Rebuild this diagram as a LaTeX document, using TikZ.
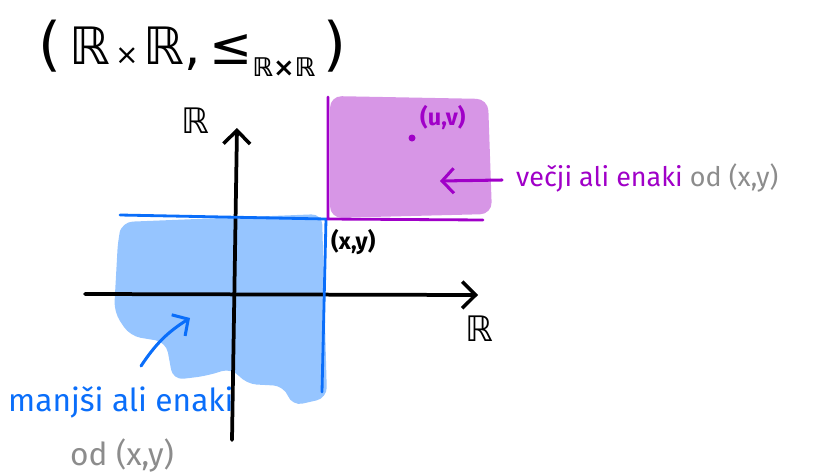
\documentclass[tikz,border=0pt]{standalone}
\usepackage{amsmath}
\usepackage{amssymb}
\usepackage{fontspec}
\setsansfont{Fira Sans}
\newfontfamily\symfont{DejaVu Sans}
\usetikzlibrary{arrows.meta}
\definecolor{pblue}{RGB}{10,110,250}
\definecolor{pbluefill}{RGB}{150,197,255}
\definecolor{ppurp}{RGB}{160,0,200}
\definecolor{ppurpfill}{RGB}{215,150,230}
\definecolor{pgray}{RGB}{140,140,140}
\tikzset{
  hax/.style={line width=3.2pt,black,line cap=round,-{Straight Barb[length=4mm,width=8mm,line width=3pt]}},
  hline/.style={line width=2.4pt,line cap=round,#1},
  harrow/.style={line width=2.6pt,line cap=round,#1,-{Straight Barb[length=3.5mm,width=7.5mm,line width=2.6pt]}},
  hlab/.style={font=\sffamily\fontsize{23}{26}\selectfont,inner sep=0pt},
  hsmall/.style={font=\sffamily\bfseries\fontsize{20}{23}\selectfont,inner sep=0pt},
  hmath/.style={font=\symfont\fontsize{30}{34}\selectfont,inner sep=0pt},
}
\begin{document}
\begin{tikzpicture}[x=0.03cm,y=-0.03cm]
\useasboundingbox (0,0) rectangle (815,472);
%% the two cones: below-left of (x,y) in blue, above-right in purple
\fill[pbluefill,rounded corners=9] (122,222) -- (322,214) -- (327,398) -- (292,406)
  -- (284,386) -- (246,384) -- (232,368) -- (206,376) -- (173,380) -- (166,342)
  -- (130,336) -- (114,312) -- (118,240) -- cycle;
\fill[ppurpfill,rounded corners=10] (330,96) -- (488,99) -- (492,214) -- (330,218) -- cycle;
% axes
\coordinate (xL) at (85,294);
\coordinate (xR) at (478,295);
\coordinate (yB) at (232,440);
\coordinate (yT) at (237,128);
\draw[hax] (xL) -- (xR);
\draw[hax] (yB) -- (yT);
\node[hmath] (Rx) at (479,329) {ℝ};
\node[hmath] (Ry) at (195,121) {ℝ};
% boundaries through (x,y)
\coordinate (xy) at (326,219);
\draw[hline=pblue] (120,215) -- (xy) -- (322,392);
\draw[hline=ppurp] (328,97) -- (328,219) -- (483,220);
\node[hsmall,anchor=north west] (xyl) at (331,229) {(x,y)};
% the point (u,v)
\fill[ppurp] (412,138) coordinate (uv) circle (3.5);
\node[hsmall,ppurp,anchor=west] (uvl) at (420,118) {(u,v)};
% title
\node[font=\symfont\fontsize{44}{50}\selectfont,inner sep=0pt,anchor=west] (title) at (38,48)
  {{\fontsize{50}{54}\selectfont(}\,ℝ{\fontsize{24}{26}\selectfont\,×\,}ℝ,\,≤\raisebox{-10pt}{\bfseries\fontsize{22}{24}\selectfont ℝ×ℝ}\,{\fontsize{50}{54}\selectfont)}};
% labels with their arrows
\node[hlab,anchor=west] (vecji) at (516,178) {\textcolor{ppurp}{večji ali enaki} \textcolor{pgray}{od (x,y)}};
\coordinate (vtip) at (440,181);
\draw[harrow=ppurp] (vecji.west) ++(-14,2) -- (vtip);
\node[hlab,font=\sffamily\fontsize{27}{30}\selectfont,pblue,anchor=west] (manjsi) at (8,402) {manjši ali enaki};
\node[hlab,font=\sffamily\fontsize{27}{30}\selectfont,pgray,anchor=west] (od) at (70,455) {od (x,y)};
\coordinate (mtail) at (141,366);
\coordinate (mtip) at (190,318);
\draw[harrow=pblue] (mtail) to[bend left=12] (mtip);
\end{tikzpicture}
\end{document}
